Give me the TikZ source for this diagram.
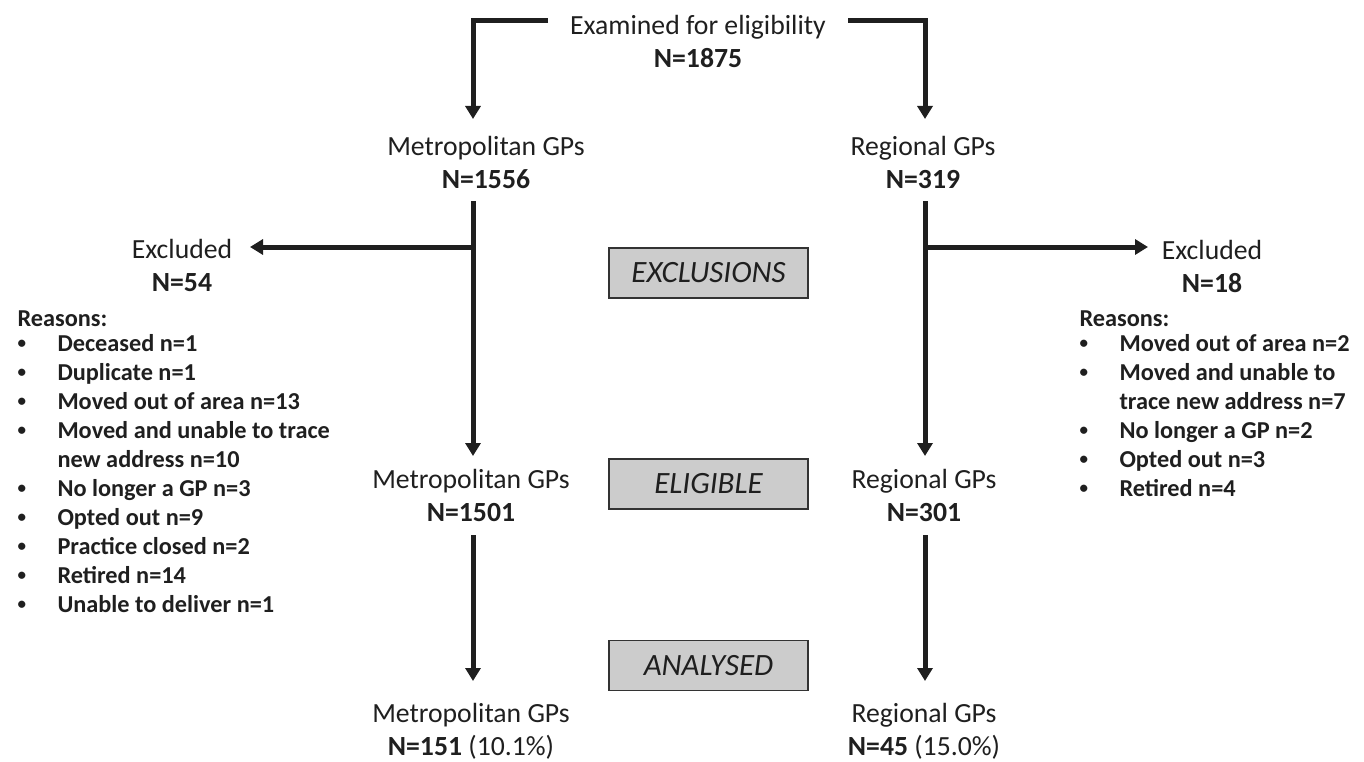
\documentclass[tikz,border=0pt]{standalone}
\usepackage{fontspec}
\setmainfont{Carlito}
\usetikzlibrary{arrows.meta}

\newcommand{\dotitem}{\raisebox{3pt}{\fontsize{17}{17}\selectfont\textbullet}}

\begin{document}
\begin{tikzpicture}[x=1pt, y=-1pt, >={Triangle[length=13pt,width=15pt]},
    line width=5pt, draw=black!88, text=black!88,
    lbl/.style={align=center, font=\fontsize{27.7}{33}\selectfont},
    phase/.style={draw=black!80, line width=1.2pt, fill=black!20,
      minimum width=199pt, minimum height=50pt, inner sep=0pt,
      font=\fontsize{31}{33}\selectfont\itshape},
    reasons/.style={anchor=base west, align=left, inner sep=0pt,
      font=\fontsize{24.3}{29}\selectfont\bfseries}]
    \useasboundingbox (0,0) rectangle (1364,762);

    % Top
    \node[lbl] (exam) at (698,41) {Examined for eligibility\\\textbf{N=1875}};
    \coordinate (examL) at (548,21);
    \coordinate (examR) at (848,21);

    % Metropolitan / Regional
    \node[lbl] (metroA) at (486,162) {Metropolitan GPs\\\textbf{N=1556}};
    \node[lbl] (regA) at (923,162) {Regional GPs\\\textbf{N=319}};
    \coordinate (metroAin) at (473,119);
    \coordinate (regAin) at (925,119);
    \draw[->] (examL) -| (metroAin);
    \draw[->] (examR) -| (regAin);

    % Exclusions
    \node[phase] (excl) at (708.5,273) {EXCLUSIONS};
    \node[lbl] (exclL) at (182,265) {Excluded\\\textbf{N=54}};
    \node[lbl] (exclR) at (1212,266) {Excluded\\\textbf{N=18}};
    \coordinate (metroAout) at (473,201);
    \coordinate (regAout) at (925,201);
    \coordinate (forkL) at (473,247);
    \coordinate (forkR) at (925,247);
    \coordinate (exclLin) at (250,247);
    \coordinate (exclRin) at (1148,247);
    \draw[->] (forkL) -- (exclLin);
    \draw[->] (forkR) -- (exclRin);

    % Reasons
    \node[reasons] (whyL) at (15,326) {Reasons:};
    \node[reasons] (listL) at (15,351) {%
      \begin{tabular}[t]{@{}p{40pt}@{}l@{}}
        \dotitem & Deceased n=1\\
        \dotitem & Duplicate n=1\\
        \dotitem & Moved out of area n=13\\
        \dotitem & Moved and unable to trace\\
                 & new address n=10\\
        \dotitem & No longer a GP n=3\\
        \dotitem & Opted out n=9\\
        \dotitem & Practice closed n=2\\
        \dotitem & Retired n=14\\
        \dotitem & Unable to deliver n=1
      \end{tabular}};
    \node[reasons] (whyR) at (1077,326) {Reasons:};
    \node[reasons] (listR) at (1077,351) {%
      \begin{tabular}[t]{@{}p{40pt}@{}l@{}}
        \dotitem & Moved out of area n=2\\
        \dotitem & Moved and unable to\\
                 & trace new address n=7\\
        \dotitem & No longer a GP n=2\\
        \dotitem & Opted out n=3\\
        \dotitem & Retired n=4
      \end{tabular}};

    % Eligible
    \node[phase] (elig) at (708.5,484) {ELIGIBLE};
    \node[lbl] (metroB) at (471,495) {Metropolitan GPs\\\textbf{N=1501}};
    \node[lbl] (regB) at (924,495) {Regional GPs\\\textbf{N=301}};
    \coordinate (metroBin) at (473,456);
    \coordinate (regBin) at (925,456);
    \draw[->] (metroAout) -- (metroBin);
    \draw[->] (regAout) -- (regBin);

    % Analysed
    \node[phase] (anal) at (708.5,665.5) {ANALYSED};
    \node[lbl] (metroC) at (471,731) {Metropolitan GPs\\\textbf{N=151} (10.1\%)};
    \node[lbl] (regC) at (924,731) {Regional GPs\\\textbf{N=45} (15.0\%)};
    \coordinate (metroBout) at (473,535);
    \coordinate (regBout) at (925,535);
    \coordinate (metroCin) at (473,681);
    \coordinate (regCin) at (925,681);
    \draw[->] (metroBout) -- (metroCin);
    \draw[->] (regBout) -- (regCin);
\end{tikzpicture}
\end{document}
